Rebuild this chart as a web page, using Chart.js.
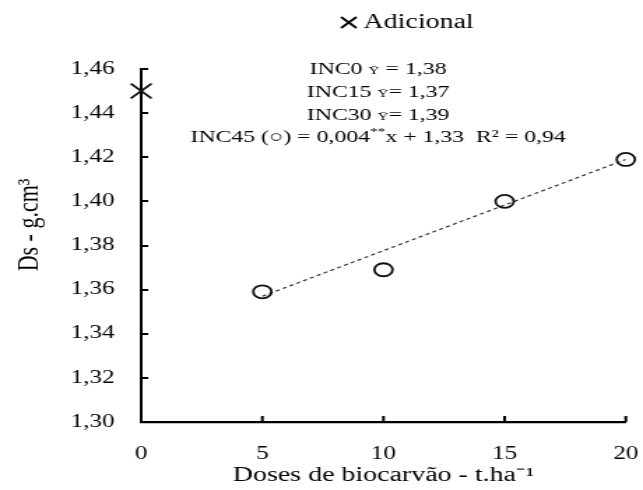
<!DOCTYPE html>
<html>
<head>
<meta charset="utf-8">
<script src="https://cdn.jsdelivr.net/npm/chart.js@4.4.1/dist/chart.umd.min.js"></script>
<style>
  html, body { margin: 0; padding: 0; background: #fff; overflow: hidden; }
  /* the source figure is stretched sideways, so the whole chart is too */
  #wrap { width: 460px; height: 490px; transform: scaleX(1.3978); transform-origin: 0 0; }
</style>
</head>
<body>
<div id="wrap"><canvas id="chart" width="460" height="490"></canvas></div>
<script>
// data
const doses = [5, 10, 15, 20];
const dsInc45 = [1.359, 1.369, 1.40, 1.419];
const adicionalX = [0];
const adicionalY = [1.45];
const trendX = [5, 20];
const trendY = [1.357, 1.419];
const xTicks = [0, 5, 10, 15, 20];
const yTicks = [1.30, 1.32, 1.34, 1.36, 1.38, 1.40, 1.42, 1.44, 1.46];
// {..} = small text, ^{..} = small raised text
const notes = [
    'INC0 {Ȳ} = 1,38',
    'INC15 {Ȳ}= 1,37',
    'INC30 {Ȳ}= 1,39',
    'INC45 (○) = 0,004^{**}x + 1,33  R² = 0,94'
];

const FONT = '"Liberation Serif", "Times New Roman", serif';
const toPts = (xs, ys) => xs.map((x, i) => ({ x: x, y: ys[i] }));
const comma = v => v.toFixed(2).replace('.', ',');

// inward tick marks, y title, the legend and the equations
const extras = {
    id: 'extras',
    afterDraw(chart) {
        const c = chart.ctx;
        const xs = chart.scales.x, ys = chart.scales.y;
        const area = chart.chartArea;
        c.save();
        c.strokeStyle = '#000';
        c.lineWidth = 2;
        c.beginPath();
        yTicks.slice(1).forEach(v => {
            const py = Math.round(ys.getPixelForValue(v));
            c.moveTo(area.left, py);
            c.lineTo(area.left + 5, py);
        });
        xTicks.slice(1).forEach(v => {
            const px = xs.getPixelForValue(v);
            c.moveTo(px, area.bottom);
            c.lineTo(px, area.bottom - 6);
        });
        c.stroke();

        // y axis title
        c.fillStyle = '#000';
        c.save();
        c.translate(21.5, 225);
        c.rotate(-Math.PI / 2);
        c.font = '22px ' + FONT;
        c.textAlign = 'center';
        c.textBaseline = 'middle';
        c.fillText('Ds - g.cm³', 0, 0);
        c.restore();

        // legend
        c.lineWidth = 1.8;
        c.beginPath();
        c.moveTo(244, 17); c.lineTo(255, 28);
        c.moveTo(255, 17); c.lineTo(244, 28);
        c.stroke();
        c.font = '20px ' + FONT;
        c.textAlign = 'left';
        c.textBaseline = 'middle';
        c.fillText(chart.data.datasets[1].label, 260, 22.5);

        // equations
        c.textBaseline = 'alphabetic';
        notes.forEach((line, i) => {
            const parts = line.split(/(\^?\{[^}]*\})/).filter(s => s.length);
            const segs = parts.map(p => {
                if (p.startsWith('^{')) return { t: p.slice(2, -1), size: 11, dy: -7 };
                if (p.startsWith('{')) return { t: p.slice(1, -1), size: 11, dy: 0 };
                return { t: p, size: 17, dy: 0 };
            });
            let w = 0;
            segs.forEach(s => { c.font = s.size + 'px ' + FONT; s.w = c.measureText(s.t).width; w += s.w; });
            let x = 270.5 - w / 2;
            const y = 74 + i * 22.8;
            segs.forEach(s => {
                c.font = s.size + 'px ' + FONT;
                c.fillText(s.t, x, y + s.dy);
                x += s.w;
            });
        });
        c.restore();
    }
};

const chart = new Chart(document.getElementById('chart'), {
    type: 'scatter',
    data: {
        datasets: [{
            label: 'INC45',
            data: toPts(doses, dsInc45),
            pointStyle: 'circle',
            pointRadius: 6.5,
            pointBorderWidth: 1.8,
            borderColor: '#111',
            backgroundColor: 'transparent',
            clip: false,
            order: 1
        }, {
            label: 'Adicional',
            data: toPts(adicionalX, adicionalY),
            pointStyle: 'crossRot',
            pointRadius: 10.5,
            pointBorderWidth: 1.8,
            borderColor: '#111',
            clip: false,
            order: 0
        }, {
            label: 'trend',
            data: toPts(trendX, trendY),
            showLine: true,
            borderColor: '#333',
            borderWidth: 1.2,
            borderDash: [3, 2.5],
            pointRadius: 0,
            order: 2
        }]
    },
    options: {
        responsive: false,
        animation: false,
        devicePixelRatio: 1,
        layout: { padding: { top: 69, right: 11, left: 0, bottom: 0 } },
        plugins: {
            legend: { display: false },
            tooltip: { enabled: false }
        },
        scales: {
            x: {
                type: 'linear',
                min: 0,
                max: 20,
                afterFit: s => { s.height = 68; s.paddingLeft = 0; s.paddingRight = 0; },
                afterBuildTicks: s => { s.ticks = xTicks.map(v => ({ value: v })); },
                grid: { drawOnChartArea: false, drawTicks: false },
                border: { display: true, color: '#000', width: 2.2 },
                ticks: { color: '#000', padding: 21, font: { family: FONT, size: 18 } },
                title: {
                    display: true,
                    text: 'Doses de biocarvão - t.ha⁻¹',
                    color: '#000',
                    padding: { top: 0, bottom: 2 },
                    font: { family: FONT, size: 20 }
                }
            },
            y: {
                min: 1.30,
                max: 1.46,
                afterFit: s => { s.width = 101; s.paddingTop = 0; s.paddingBottom = 0; },
                afterBuildTicks: s => { s.ticks = yTicks.map(v => ({ value: v })); },
                grid: { drawOnChartArea: false, drawTicks: false },
                border: { display: true, color: '#000', width: 2 },
                ticks: { color: '#000', padding: 19, font: { family: FONT, size: 18 }, callback: v => comma(v) }
            }
        }
    },
    plugins: [extras]
});
</script>
</body>
</html>
